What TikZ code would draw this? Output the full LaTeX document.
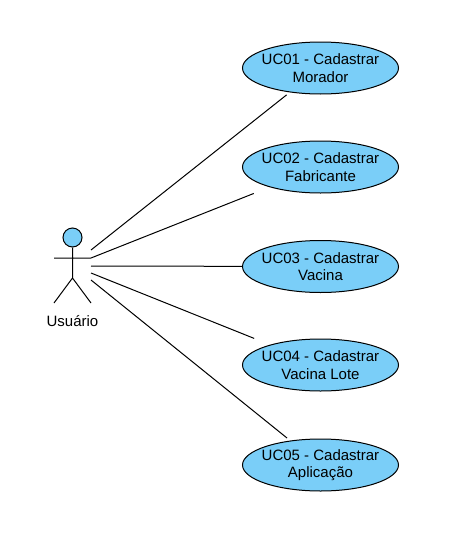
\documentclass[tikz,border=0pt]{standalone}
\usepackage{fontspec}
\setmainfont{Liberation Sans}
\usepackage{tikz}
\usetikzlibrary{shapes.geometric}
\definecolor{ucblue}{HTML}{7ACEF8}
\tikzset{
	usecase/.style={ellipse, draw, fill=ucblue, line width=1pt, minimum width=156pt, minimum height=52pt, inner xsep=-10pt, inner ysep=0pt, align=center, font=\fontsize{15}{17.5}\selectfont},
	actorline/.style={draw, line width=1pt},
	assoc/.style={draw, line width=1pt}
}
\begin{document}
\begin{tikzpicture}[x=1pt,y=-1pt]
		\useasboundingbox (0,0) rectangle (456,541);
		\node[usecase] (uc1) at (320.5,68) {UC01 - Cadastrar\\Morador};
		\node[usecase] (uc2) at (320.5,167) {UC02 - Cadastrar\\Fabricante};
		\node[usecase] (uc3) at (320.5,266.5) {UC03 - Cadastrar\\Vacina};
		\node[usecase] (uc4) at (320.5,365) {UC04 - Cadastrar\\Vacina Lote};
		\node[usecase] (uc5) at (320.5,465) {UC05 - Cadastrar\\Aplicação};
		% boneco
		\node[circle, draw, fill=ucblue, line width=1pt, minimum size=19pt, inner sep=0pt] (head) at (72.5,237.5) {};
		\coordinate (hip) at (72.5,278);
		\coordinate (handl) at (54,258);
		\coordinate (handr) at (91,258);
		\coordinate (footl) at (54,303);
		\coordinate (footr) at (91,303);
		\node[font=\fontsize{15}{17.5}\selectfont] (user) at (72.5,321) {Usuário};
		\path[actorline]
		(head) -- (hip)
		(handl) -- (handr)
		(footl) -- (hip) -- (footr);
		% associacoes
		\coordinate (from1) at (91,250);
		\coordinate (from3) at (91,266);
		\coordinate (from4) at (91,273);
		\coordinate (from5) at (91,280);
		\path[assoc]
		(from1) edge[shorten >=4pt] (uc1)
		(handr) edge[shorten >=17pt] (uc2)
		(from3) edge (uc3)
		(from4) edge[shorten >=17pt] (uc4)
		(from5) edge[shorten >=4pt] (uc5);
	\end{tikzpicture}
\end{document}
